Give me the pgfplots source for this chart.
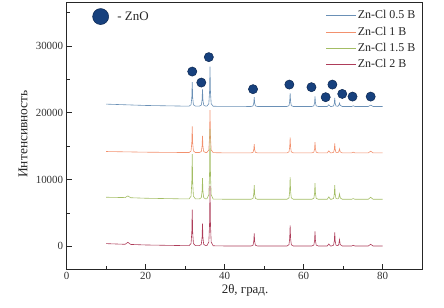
\documentclass[border=0pt]{standalone}
\usepackage{fontspec}
\setmainfont{Liberation Serif}
\usepackage{pgfplots}
\pgfplotsset{compat=1.18}
\definecolor{cblue}{HTML}{6A90B6}
\definecolor{corange}{HTML}{F2916E}
\definecolor{cgreen}{HTML}{A3BD64}
\definecolor{cred}{HTML}{AE3D5A}
\definecolor{dotfill}{HTML}{17417E}
\definecolor{dotdraw}{HTML}{0B2650}
\begin{document}
\begin{tikzpicture}
\path[use as bounding box] (-66.7bp,-39bp) rectangle (377.3bp,269bp);
\begin{axis}[
  scale only axis, width=355.3bp, height=267bp,
  xmin=0, xmax=90, ymin=-3400, ymax=36600,
  xtick={0,20,40,60,80}, minor xtick={10,30,50,70},
  ytick={0,10000,20000,30000}, minor ytick={-5000,5000,15000,25000,35000},
  xtick pos=bottom, ytick pos=left,
  tick align=inside,
  major tick length=5bp, minor tick length=3bp,
  axis line style={draw=black!85, line width=0.8pt},
  every tick/.style={black!85, line width=0.7pt},
  scaled y ticks=false,
  /pgf/number format/1000 sep={},
  /pgf/number format/assume math mode=true,
  tick label style={font=\fontsize{11}{13}\selectfont, text=black!80},
  every axis x label/.style={at={(axis description cs:0.502,-0.079)}, anchor=center, font=\fontsize{13}{15}\selectfont, text=black!85},
  every axis y label/.style={at={(axis description cs:-0.123,0.506)}, rotate=90, anchor=center, font=\fontsize{13.5}{15}\selectfont, text=black!85},
  xlabel={2θ, град.},
  ylabel={Интенсивность},
  legend style={at={(1,1)}, anchor=north east, xshift=-4bp, yshift=-6bp, draw=none, fill=none,
    font=\fontsize{12}{14}\selectfont, text=black!85, row sep=3.5bp, inner sep=1bp,
    nodes={inner sep=1.5bp}},
  legend cell align=left,
  legend image code/.code={\draw[#1,line width=0.5pt] (0bp,0bp) -- (30bp,0bp);},
  every axis plot/.append style={line width=0.6pt},
]
% Zn-Cl 0.5 V
\addplot[cblue, sharp plot] coordinates {
(10,21300)(20,21100)(30,21000)
(31.0,21000)(31.5,21210)(31.68,22225)(31.8,24600)(31.92,22225)(32.1,21210)(32.6,21000)
(33.6,21000)(34.1,21150)(34.28,21875)(34.4,23500)(34.52,21875)(34.7,21150)(35.2,21000)
(35.5,21000)(36.0,21354)(36.18,23065)(36.3,26900)(36.42,23065)(36.6,21354)(37.1,20980)
(40,20960)
(46.7,20950)(47.2,21034)(47.38,21440)(47.5,22350)(47.62,21440)(47.8,21034)(48.3,20950)
(55.8,20950)(56.3,21070)(56.48,21650)(56.6,22950)(56.72,21650)(56.9,21070)(57.4,20950)
(62.1,20950)(62.6,21040)(62.78,21475)(62.9,22450)(63.02,21475)(63.2,21040)(63.7,20950)
(66.0,20950)(66.4,21200)(66.8,20950)
(67.1,20950)(67.6,21028)(67.78,21405)(67.9,22250)(68.02,21405)(68.2,21028)(68.6,20980)
(68.7,20980)(68.9,21100)(69.1,21450)(69.3,21100)(69.8,20950)
(72.2,20950)(72.6,21050)(73.0,20950)
(76.4,20950)(77.0,21150)(77.6,20950)
(80,20950)
};
\addlegendentry{Zn-Cl 0.5 В}
% Zn-Cl 1 V
\addplot[corange, sharp plot] coordinates {
(10,14200)(20,14100)(30,14050)
(31.0,14050)(31.5,14284)(31.68,15415)(31.8,17950)(31.92,15415)(32.1,14284)(32.6,14050)
(33.6,14050)(34.1,14200)(34.28,14925)(34.4,16550)(34.52,14925)(34.7,14200)(35.2,14050)
(35.5,14050)(36.0,14440)(36.18,16325)(36.3,20400)(36.42,16325)(36.6,14440)(37.1,14030)
(40,14000)
(46.7,14000)(47.2,14078)(47.38,14455)(47.5,15300)(47.62,14455)(47.8,14078)(48.3,14000)
(55.8,14000)(56.3,14138)(56.48,14805)(56.6,16300)(56.72,14805)(56.9,14138)(57.4,14000)
(62.1,14000)(62.6,14096)(62.78,14560)(62.9,15600)(63.02,14560)(63.2,14096)(63.7,14000)
(66.0,14000)(66.4,14300)(66.8,14000)
(67.1,14000)(67.6,14084)(67.78,14490)(67.9,15400)(68.02,14490)(68.2,14084)(68.6,14030)
(68.7,14030)(68.9,14150)(69.1,14600)(69.3,14150)(69.8,14000)
(72.2,14000)(72.6,14100)(73.0,14000)
(76.4,14000)(77.0,14250)(77.6,14000)
(80,14000)
};
\addlegendentry{Zn-Cl 1 В}
% Zn-Cl 1.5 V
\addplot[cgreen, sharp plot] coordinates {
(10,7350)(14.8,7300)(15.5,7550)(16.2,7280)(20,7200)(30,7100)
(31.0,7100)(31.5,7508)(31.68,9480)(31.8,13800)(31.92,9480)(32.1,7508)(32.6,7100)
(33.6,7100)(34.1,7286)(34.28,8185)(34.4,10200)(34.52,8185)(34.7,7286)(35.2,7100)
(35.5,7100)(36.0,7730)(36.18,10775)(36.3,17600)(36.42,10775)(36.6,7730)(37.1,7080)
(40,7050)
(46.7,7050)(47.2,7176)(47.38,7785)(47.5,9150)(47.62,7785)(47.8,7176)(48.3,7050)
(55.8,7050)(56.3,7248)(56.48,8205)(56.6,10350)(56.72,8205)(56.9,7248)(57.4,7050)
(62.1,7050)(62.6,7194)(62.78,7890)(62.9,9450)(63.02,7890)(63.2,7194)(63.7,7050)
(66.0,7050)(66.4,7400)(66.8,7050)
(67.1,7050)(67.6,7176)(67.78,7785)(67.9,9150)(68.02,7785)(68.2,7176)(68.6,7100)
(68.7,7100)(68.9,7250)(69.1,7850)(69.3,7250)(69.8,7050)
(72.2,7050)(72.6,7150)(73.0,7050)
(76.4,7050)(77.0,7350)(77.6,7050)
(80,7050)
};
\addlegendentry{Zn-Cl 1.5 В}
% Zn-Cl 2 V
\addplot[cred, sharp plot] coordinates {
(10,400)(14.8,300)(15.5,600)(16.2,280)(20,200)(30,100)
(31.0,100)(31.5,424)(31.68,1990)(31.8,5500)(31.92,1990)(32.1,424)(32.6,100)
(33.6,100)(34.1,298)(34.28,1255)(34.4,3400)(34.52,1255)(34.7,298)(35.2,100)
(35.5,100)(36.0,634)(36.18,3215)(36.3,9000)(36.42,3215)(36.6,634)(37.1,80)
(40,50)
(46.7,50)(47.2,164)(47.38,715)(47.5,1950)(47.62,715)(47.8,164)(48.3,50)
(55.8,50)(56.3,236)(56.48,1135)(56.6,3150)(56.72,1135)(56.9,236)(57.4,50)
(62.1,50)(62.6,182)(62.78,820)(62.9,2250)(63.02,820)(63.2,182)(63.7,50)
(66.0,50)(66.4,350)(66.8,50)
(67.1,50)(67.6,173)(67.78,768)(67.9,2100)(68.02,768)(68.2,173)(68.6,100)
(68.7,100)(68.9,250)(69.1,1000)(69.3,250)(69.8,50)
(72.2,50)(72.6,150)(73.0,50)
(76.4,50)(77.0,300)(77.6,50)
(80,50)
};
\addlegendentry{Zn-Cl 2 В}
% ZnO markers
\addplot[only marks, forget plot, mark=*, mark size=4.6bp, mark options={fill=dotfill, draw=dotdraw, line width=0.5pt}] coordinates {
(31.8,26180)(34.1,24530)(36.0,28340)(47.2,23540)(56.4,24230)(62.0,23840)
(65.6,22340)(67.3,24230)(69.8,22830)(72.4,22430)(77.0,22430)
};
% legend dot
\addplot[only marks, forget plot, mark=*, mark size=8bp, mark options={fill=dotfill, draw=dotdraw, line width=0.5pt}] coordinates {(8.6,34420)};
\node[anchor=west, font=\fontsize{13}{15}\selectfont, text=black!85, inner sep=0pt] at (axis cs:12.8,34420) {- ZnO};
\end{axis}
\end{tikzpicture}
\end{document}
